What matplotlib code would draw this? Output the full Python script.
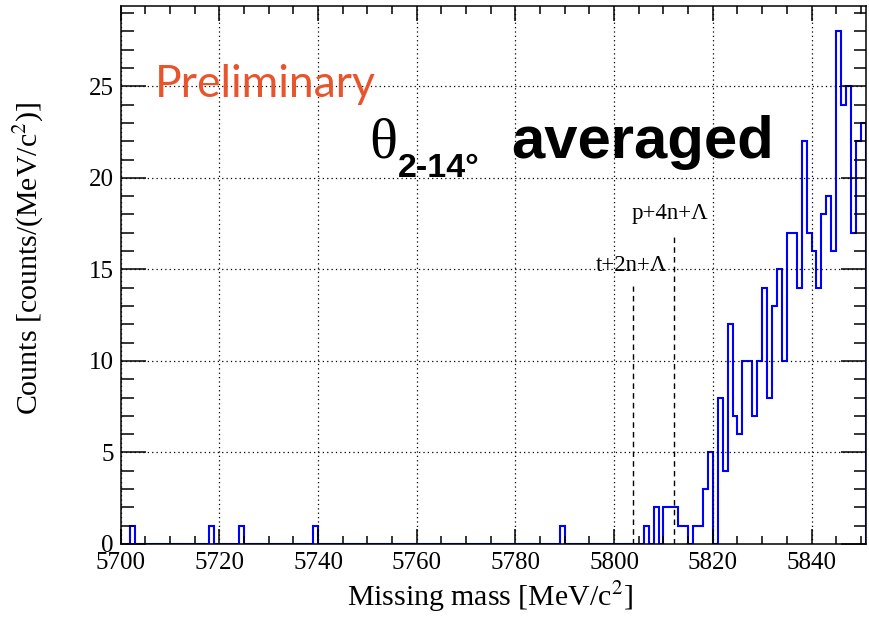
import numpy as np
import matplotlib
matplotlib.use("Agg")
import matplotlib.pyplot as plt
from matplotlib.ticker import MultipleLocator

# Missing-mass histogram, 1 MeV bins
mass_min, mass_max = 5700, 5851
sparse_bins = [5702, 5718, 5724, 5739, 5789]
sparse_counts = [1, 1, 1, 1, 1]
tail_start = 5806
tail_counts = [1, 0, 2, 0, 2, 2, 2, 1, 1, 0,
               1, 1, 3, 5, 0, 8, 4, 12, 7, 6,
               10, 10, 7, 10, 14, 8, 13, 15, 10, 17,
               17, 14, 22, 17, 16, 14, 18, 19, 16, 28,
               24, 25, 17, 22, 23]

# Particle-decay thresholds [MeV/c^2] and marker heights
threshold_labels = ["t+2n+\u039b", "p+4n+\u039b"]
threshold_mass = [5803.735, 5812.215]
threshold_height = [14.1, 16.85]
label_height = [14.9, 17.75]
label_x = [5803.5, 5811.3]

x_ticks = [5700, 5720, 5740, 5760, 5780, 5800, 5820, 5840]
y_ticks = [0, 5, 10, 15, 20, 25]

edges = np.arange(mass_min, mass_max + 1)
counts = np.zeros(len(edges) - 1)
for b, c in zip(sparse_bins, sparse_counts):
    counts[b - mass_min] = c
for i, c in enumerate(tail_counts):
    counts[tail_start - mass_min + i] = c

plt.rcParams["mathtext.fontset"] = "stix"

W, H = 869, 620
fig = plt.figure(figsize=(W / 100, H / 100), dpi=100)
ax = fig.add_axes([120.6 / W, 1 - 544 / H, (865.8 - 120.6) / W, (544 - 5.7) / H])

serif = ["Liberation Serif", "DejaVu Serif"]

ax.stairs(counts, edges, color="#0000ff", linewidth=1.5)

for m, h in zip(threshold_mass, threshold_height):
    ax.plot([m, m], [0, h], color="black", linewidth=1.0, linestyle=(0, (4, 3)))
for lab, lx, ly in zip(threshold_labels, label_x, label_height):
    ax.text(lx, ly, lab, ha="center", va="baseline", fontsize=16.5, family=serif)

ax.set_xlim(mass_min, mass_max)
ax.set_ylim(0, 29.4)
ax.set_xticks(x_ticks)
ax.set_yticks(y_ticks)
ax.xaxis.set_minor_locator(MultipleLocator(5))
ax.yaxis.set_minor_locator(MultipleLocator(1))
ax.grid(True, which="major", color="black", linestyle=(0, (1, 2.5)), linewidth=0.9)

ax.tick_params(which="both", direction="in", top=True, right=True, width=1.1,
               labelsize=18)
ax.tick_params(axis="x", which="major", length=11, pad=6)
ax.tick_params(axis="x", which="minor", length=6)
ax.tick_params(axis="y", which="major", length=18, pad=5)
ax.tick_params(axis="y", which="minor", length=9)
for lab in ax.get_xticklabels() + ax.get_yticklabels():
    lab.set_family(serif)
for s in ax.spines.values():
    s.set_linewidth(1.1)

ax.set_xlabel(r"Missing mass [MeV/c$^{2}$]", fontsize=21.5, family=serif)
ax.xaxis.label.set_va("baseline")
ax.xaxis.set_label_coords(0.496, -0.115)
ax.set_ylabel(r"Counts [counts/(MeV/c$^{2}$)]", fontsize=21.5, family=serif)
ax.yaxis.set_label_coords(-0.1, 0.53)


def fpos(x, y):
    return x / W, 1 - y / H


fig.text(*fpos(155, 96.7), "Preliminary", color="#e8542c", fontsize=32,
         family=["Lato", "DejaVu Sans"], va="baseline")
fig.text(*fpos(369, 158), "\u03b8", fontsize=42, family=serif, va="baseline")
fig.text(*fpos(398, 177), "2-14\u00b0", fontsize=24.5, fontweight="bold",
         family=["Liberation Sans", "DejaVu Sans"], va="baseline")
fig.text(*fpos(511, 158), "averaged", fontsize=43, fontweight="bold",
         family=["Liberation Sans", "DejaVu Sans"], va="baseline")

fig.savefig("out.png", dpi=100)
